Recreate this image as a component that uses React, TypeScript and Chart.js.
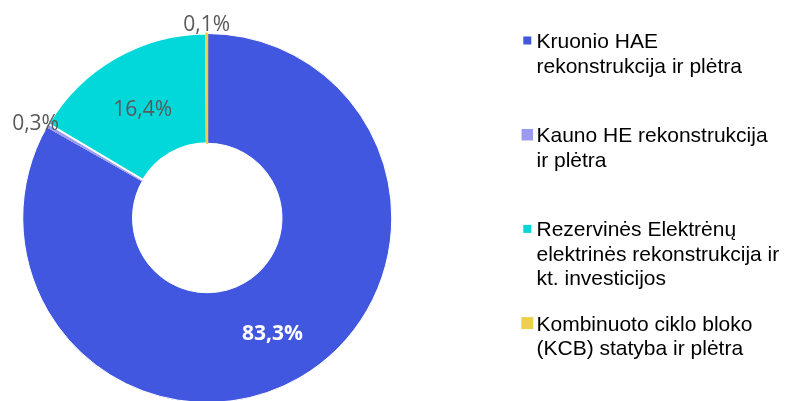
import React, { useEffect, useRef } from "react";
import { Chart, registerables } from "chart.js";

Chart.register(...registerables);

const categories = [
  "Kruonio HAE rekonstrukcija ir plėtra",
  "Kauno HE rekonstrukcija ir plėtra",
  "Rezervinės Elektrėnų elektrinės rekonstrukcija ir kt. investicijos",
  "Kombinuoto ciklo bloko (KCB) statyba ir plėtra",
];
const legendLines = [
  ["Kruonio HAE", "rekonstrukcija ir plėtra"],
  ["Kauno HE rekonstrukcija", "ir plėtra"],
  ["Rezervinės Elektrėnų", "elektrinės rekonstrukcija ir", "kt. investicijos"],
  ["Kombinuoto ciklo bloko", "(KCB) statyba ir plėtra"],
];
const shares = [83.3, 0.3, 16.4, 0.1];
const colors = ["#4157E0", "#9A9AF0", "#02D8D9", "#EDCF4F"];
const labelTexts = shares.map((v) => v.toFixed(1).replace(".", ",") + "%");

const W = 785;
const H = 410;

const labelPlugin = {
  id: "sliceLabels",
  afterDatasetsDraw(chart: any) {
    const ctx = chart.ctx;
    const meta = chart.getDatasetMeta(0);
    ctx.save();
    ctx.textAlign = "center";
    ctx.textBaseline = "middle";
    meta.data.forEach((arc: any, i: number) => {
      const p = arc.getProps(["x", "y", "startAngle", "endAngle", "innerRadius", "outerRadius"], true);
      const mid = (p.startAngle + p.endAngle) / 2;
      const inside = shares[i] >= 5;
      const r = inside ? (p.innerRadius + p.outerRadius) / 2 : p.outerRadius + 14;
      const x = p.x + Math.cos(mid) * r;
      const y = p.y + Math.sin(mid) * r;
      const big = i === 0;
      ctx.font = (big ? "bold " : "") + "21px 'Open Sans'";
      ctx.fillStyle = big ? "#FFFFFF" : "#595959";
      ctx.fillText(labelTexts[i], x, y + (inside ? 4 : 5.5));
    });
    ctx.restore();
  },
};

const legendPlugin = {
  id: "sideLegend",
  afterDraw(chart: any) {
    const ctx = chart.ctx;
    const markerSizes = [8, 11.5, 8, 12];
    const firstBaseline = 48;
    const itemStep = 94.2;
    const lineH = 24.5;
    const markerCx = 527.3;
    const textX = 536.5;
    ctx.save();
    ctx.font = "21px 'Liberation Sans', Arial, sans-serif";
    ctx.textAlign = "left";
    ctx.textBaseline = "alphabetic";
    legendLines.forEach((lines, i) => {
      const base = firstBaseline + i * itemStep;
      const s = markerSizes[i];
      ctx.fillStyle = colors[i];
      ctx.fillRect(markerCx - s / 2, base - 7.5 - s / 2, s, s);
      ctx.fillStyle = "#000000";
      lines.forEach((t, j) => ctx.fillText(t, textX, base + j * lineH));
    });
    ctx.restore();
  },
};

export default function App() {
  const ref = useRef<HTMLCanvasElement>(null);
  useEffect(() => {
    if (!ref.current) return;
    const chart = new Chart(ref.current, {
      type: "doughnut",
      data: {
        labels: categories,
        datasets: [
          {
            data: shares,
            backgroundColor: colors,
            borderColor: ["#FFFFFF", "#9A9AF0", "#FFFFFF", "#EDCF4F"],
            borderWidth: [1, 1, 2, 2],
          },
        ],
      },
      options: {
        responsive: false,
        animation: false,
        cutout: "40.5%",
        rotation: 0,
        layout: { padding: { left: 21.5, top: 32.5, right: W - 393, bottom: H - 403.5 } },
        plugins: { legend: { display: false }, tooltip: { enabled: false } },
      },
      plugins: [labelPlugin, legendPlugin],
    } as any);
    return () => chart.destroy();
  }, []);
  return (
    <div style={{ position: "fixed", left: 0, top: 0, width: W, height: 401, overflow: "hidden", background: "#fff" }}>
      <canvas ref={ref} width={W} height={H} style={{ display: "block", width: W, height: H }} />
    </div>
  );
}
